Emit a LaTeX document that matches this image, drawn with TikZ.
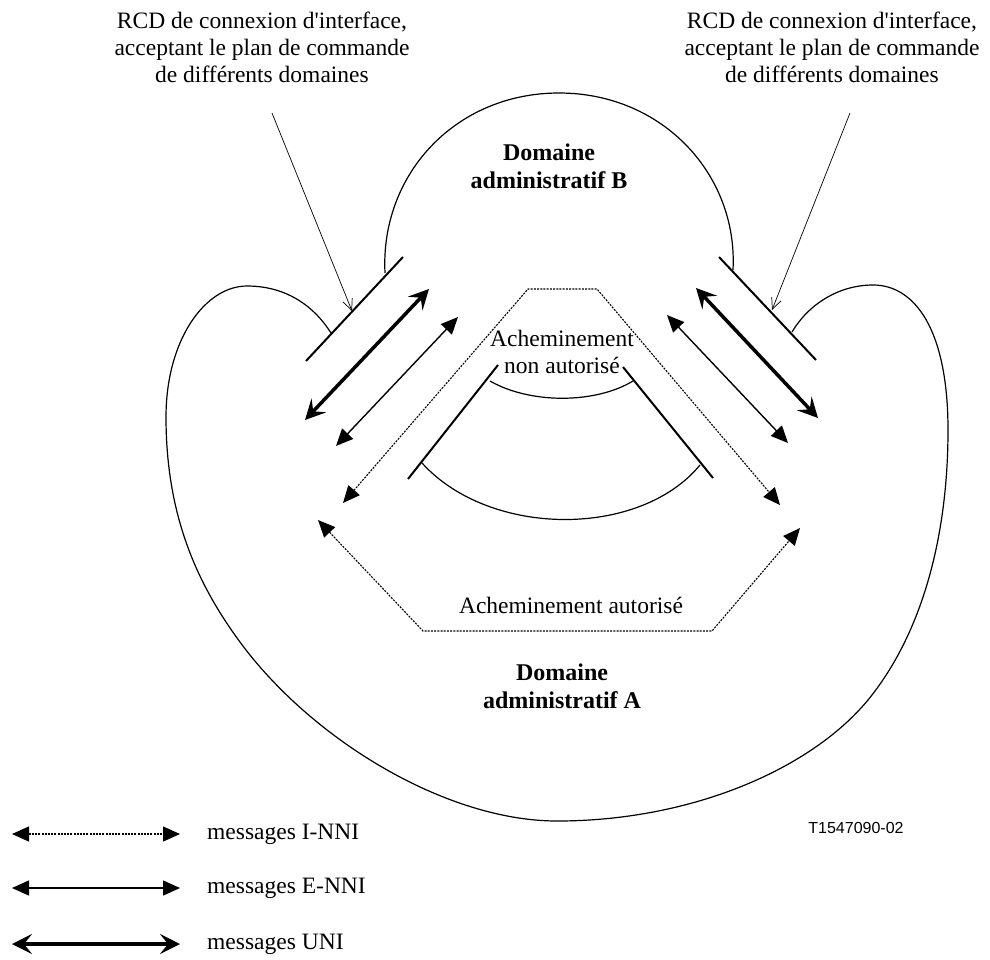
\documentclass[tikz,border=0pt]{standalone}
\usepackage{fontspec}
\setmainfont{Liberation Serif}
\newfontfamily\figsans{Liberation Sans}
\usetikzlibrary{arrows.meta}

\begin{document}
\begin{tikzpicture}[x=1pt,y=-1pt,
  txt/.style={font=\fontsize{23.5}{27}\selectfont, align=center, inner sep=0pt},
  domlbl/.style={txt, font=\fontsize{24}{28}\selectfont\bfseries},
  legtxt/.style={txt, anchor=west},
  outline/.style={line width=1.2pt},
  rcdbar/.style={line width=2pt},
  pointer/.style={line width=0.7pt, -{Straight Barb[length=11pt,width=10pt]}},
  uni/.style={line width=3.5pt, {Stealth[length=20pt,width=20pt,inset=8pt]}-{Stealth[length=20pt,width=20pt,inset=8pt]}},
  enni/.style={line width=1.4pt, {Triangle[length=17pt,width=15pt]}-{Triangle[length=17pt,width=15pt]}},
  inni/.style={line width=1.1pt, dash pattern=on 2pt off 1.2pt, {Triangle[length=17pt,width=15pt]}-{Triangle[length=17pt,width=15pt]}}
]
\useasboundingbox (0,0) rectangle (990,959);

% --- interface RCD labels and their pointers
\node[txt] (rcdL) at (262,47) {RCD de connexion d\textquotesingle interface,\\acceptant le plan de commande\\de différents domaines};
\node[txt] (rcdR) at (832,47) {RCD de connexion d\textquotesingle interface,\\acceptant le plan de commande\\de différents domaines};

\coordinate (pL0) at (272,113);
\coordinate (pL1) at (352,311);
\coordinate (pR0) at (850,113);
\coordinate (pR1) at (772,310);
\draw[pointer] (pL0) -- (pL1);
\draw[pointer] (pR0) -- (pR1);

% --- interface bars
\coordinate (barL1) at (306,361);
\coordinate (barL2) at (403,257);
\coordinate (barR1) at (719,257);
\coordinate (barR2) at (816,360);
\draw[rcdbar] (barL1) -- (barL2);
\draw[rcdbar] (barR1) -- (barR2);

% --- domain B (upper arch)
\coordinate (bL) at (385,273);
\coordinate (bTop) at (559,93);
\coordinate (bR) at (733,270);
\draw[outline] (bL) .. controls (380,175) and (455,93) .. (bTop)
               .. controls (663,93) and (738,175) .. (bR);
\node[domlbl] (domB) at (549,166) {Domaine\\administratif B};

% --- domain A (large outline with two lobes)
\coordinate (aL) at (331,333);
\coordinate (aLobeL) at (247,286);
\coordinate (aWest) at (166,417);
\coordinate (aSW) at (246,650);
\coordinate (aBot) at (557,821);
\coordinate (aSE) at (868,700);
\coordinate (aEast) at (948,430);
\coordinate (aLobeR) at (873,285);
\coordinate (aR) at (792,332);
\draw[outline] (aL) .. controls (312,303) and (283,286) .. (aLobeL)
  .. controls (205,286) and (166,340) .. (aWest)
  .. controls (166,520) and (200,590) .. (aSW)
  .. controls (320,745) and (450,821) .. (aBot)
  .. controls (690,821) and (810,770) .. (aSE)
  .. controls (925,630) and (948,530) .. (aEast)
  .. controls (948,330) and (915,285) .. (aLobeR)
  .. controls (838,285) and (808,305) .. (aR);
\node[domlbl] (domA) at (562,686) {Domaine\\administratif A};

% --- inner region (routing not allowed)
\coordinate (iL1) at (408,479);
\coordinate (iL2) at (498,365);
\coordinate (iR1) at (623,367);
\coordinate (iR2) at (713,478);
\draw[rcdbar] (iL1) -- (iL2);
\draw[rcdbar] (iR1) -- (iR2);
\coordinate (uaL) at (490,381);
\coordinate (uaR) at (633,381);
\coordinate (laL) at (422,463);
\coordinate (laR) at (700,465);
\draw[outline] (uaL) .. controls (530,404) and (595,404) .. (uaR);
\draw[outline] (laL) .. controls (490,538) and (640,538) .. (laR);
\node[txt] (nonaut) at (562,352) {Acheminement\\non autorisé};

% --- message arrows across the interfaces
\coordinate (uL1) at (305,420);
\coordinate (uL2) at (429,289);
\coordinate (uR1) at (696,288);
\coordinate (uR2) at (818,418);
\draw[uni] (uL1) -- (uL2);
\draw[uni] (uR1) -- (uR2);

\coordinate (eL1) at (336,446);
\coordinate (eL2) at (458,317);
\coordinate (eR1) at (667,315);
\coordinate (eR2) at (788,443);
\draw[enni] (eL1) -- (eL2);
\draw[enni] (eR1) -- (eR2);

% --- routes inside domain A
\coordinate (nL) at (343,503);
\coordinate (nTL) at (528,289);
\coordinate (nTR) at (597,289);
\coordinate (nR) at (780,505);
\draw[inni] (nL) -- (nTL) -- (nTR) -- (nR);

\coordinate (oL) at (318,520);
\coordinate (oBL) at (423,631);
\coordinate (oBR) at (712,631);
\coordinate (oR) at (800,528);
\draw[inni] (oL) -- (oBL) -- (oBR) -- (oR);
\node[txt] (aut) at (571,605) {Acheminement autorisé};

% --- figure reference
\node[inner sep=0pt, font=\figsans\fontsize{16}{18}\selectfont] (ref) at (856,828) {T1547090-02};

% --- legend
\coordinate (lg1a) at (12,834);
\coordinate (lg1b) at (180,834);
\coordinate (lg2a) at (12,888);
\coordinate (lg2b) at (180,888);
\coordinate (lg3a) at (12,944);
\coordinate (lg3b) at (180,944);
\draw[inni] (lg1a) -- (lg1b);
\draw[enni] (lg2a) -- (lg2b);
\draw[uni] (lg3a) -- (lg3b);
\node[legtxt] (lgt1) at (207,834) {messages I-NNI};
\node[legtxt] (lgt2) at (207,888) {messages E-NNI};
\node[legtxt] (lgt3) at (207,944) {messages UNI};
\end{tikzpicture}
\end{document}
